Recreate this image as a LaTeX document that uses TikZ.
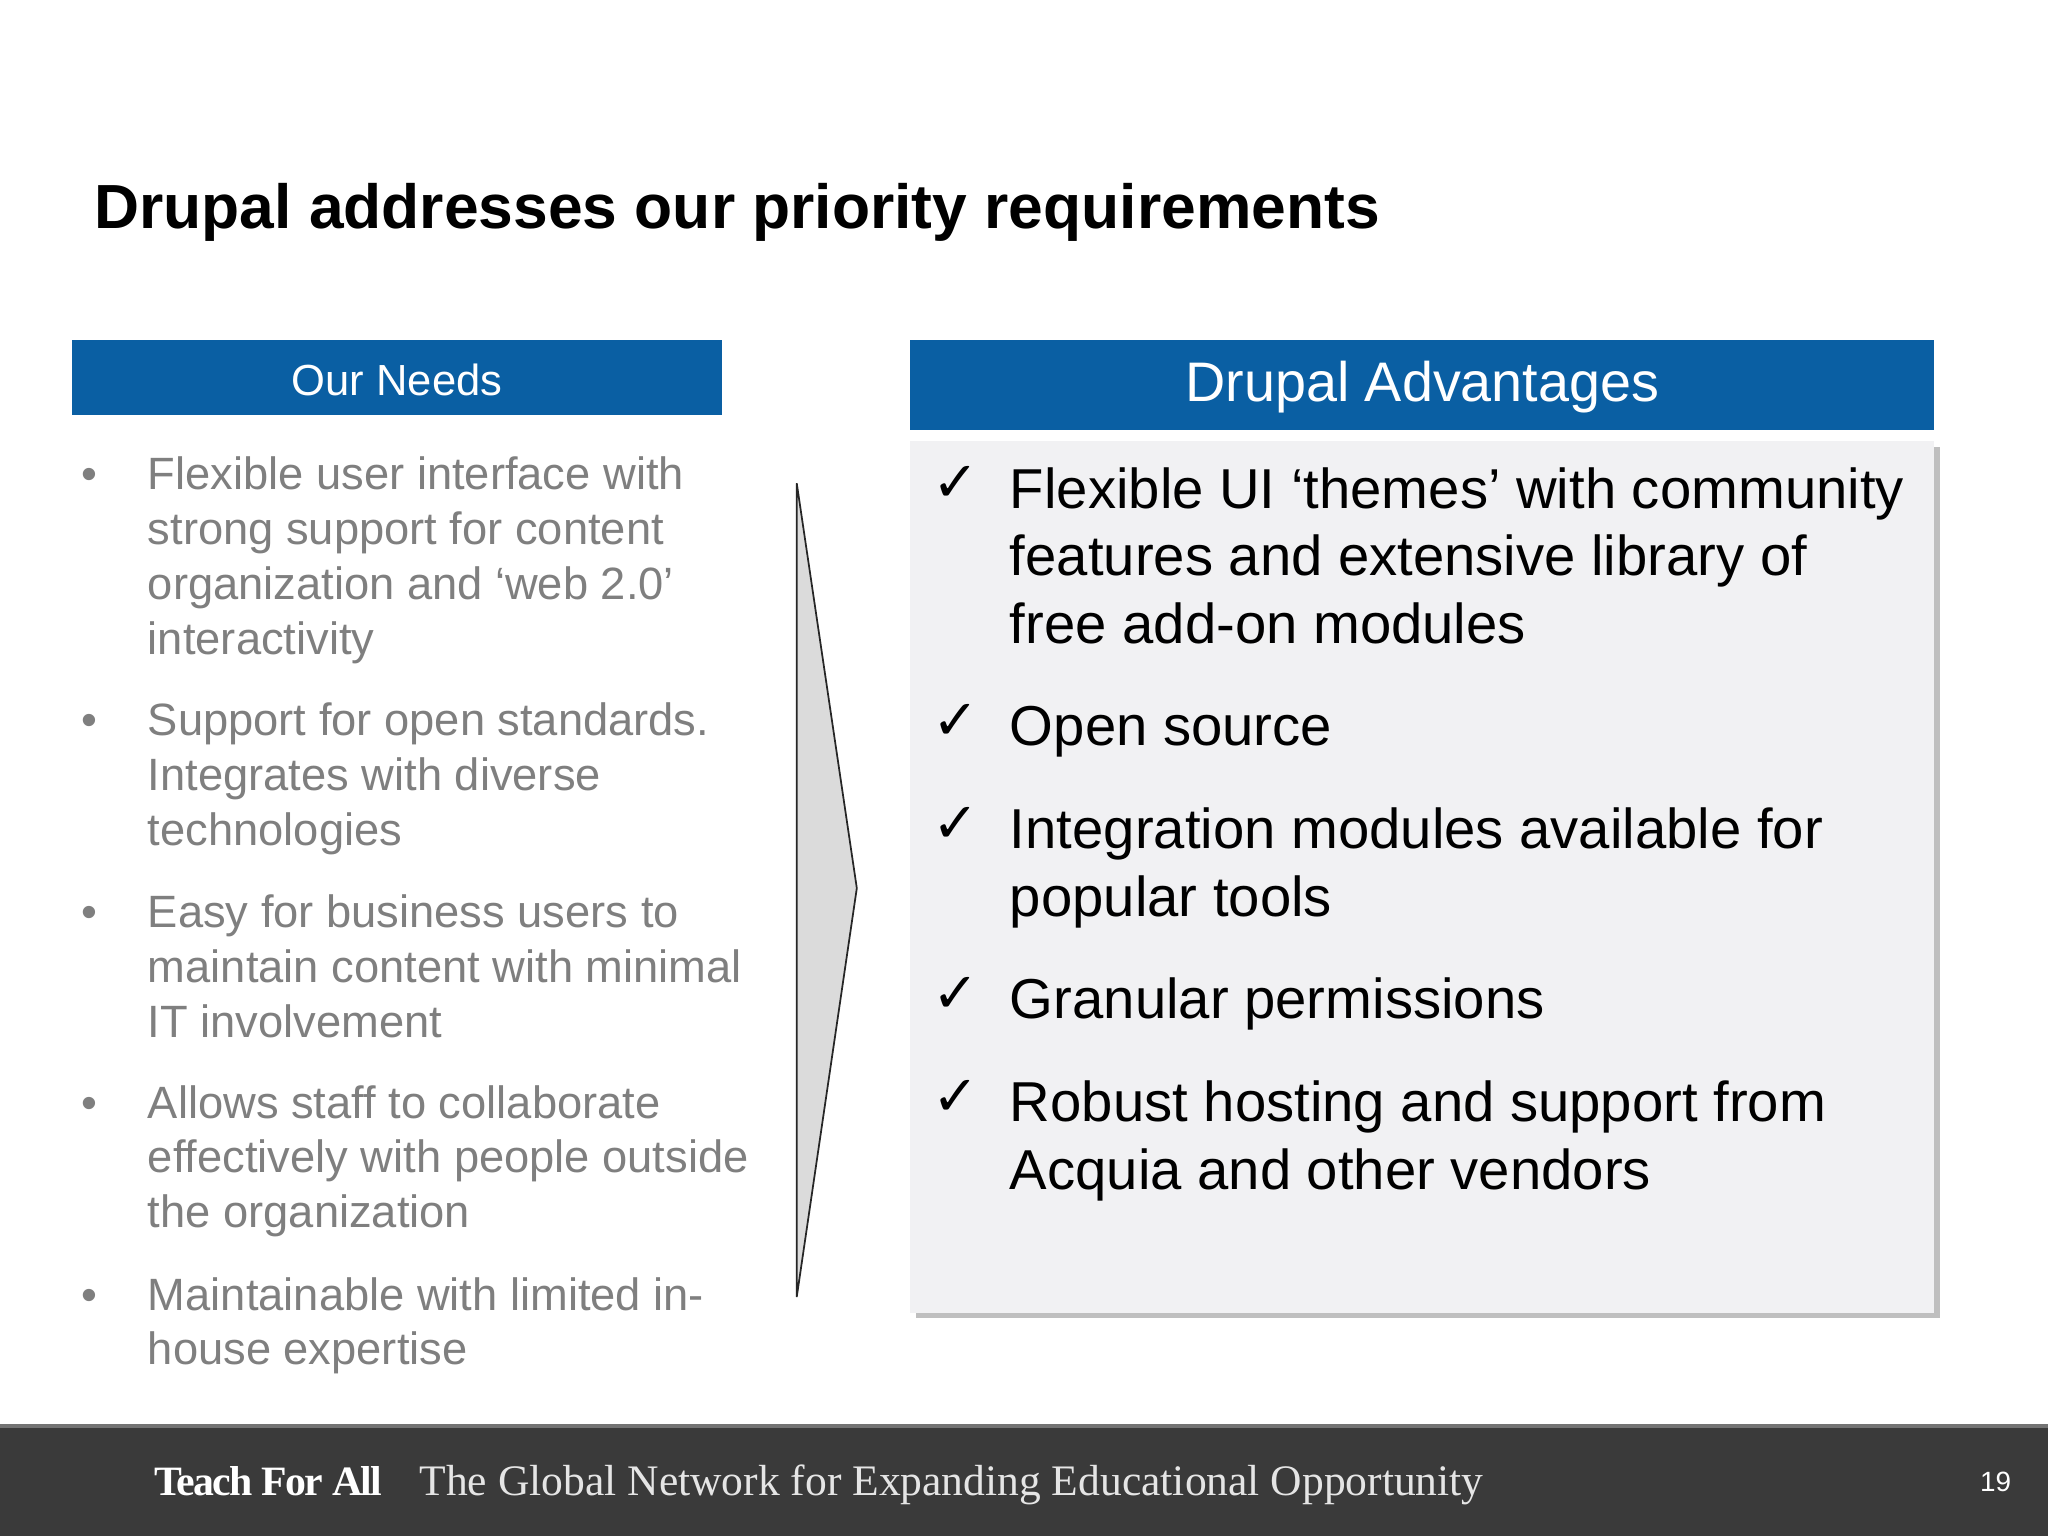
\documentclass[tikz,border=0pt]{standalone}
\usepackage{fontspec}
\setmainfont{Liberation Sans}
\newfontfamily\serifft{Liberation Serif}
\newfontfamily\symft{DejaVu Sans}
\definecolor{hdrblue}{HTML}{0A5FA3}
\definecolor{needgray}{HTML}{7F7F7F}
\definecolor{boxgray}{HTML}{F1F1F3}
\definecolor{footgray}{HTML}{3A3A3A}
\tikzset{
 hdr/.style={fill=hdrblue,draw=none},
 need/.style={anchor=base west,inner sep=0,text=needgray,font=\fontsize{26}{31}\selectfont},
 adv/.style={anchor=base west,inner sep=0,text=black,font=\fontsize{32.3}{39}\selectfont},
 chk/.style={anchor=base west,inner sep=0,font=\symft\fontsize{32}{36}\selectfont},
}
\begin{document}
\begin{tikzpicture}[x=0.75pt,y=-0.75pt]
\path[use as bounding box,fill=white] (0,0) rectangle (1568,1176);
\node[anchor=base west,inner sep=0,font=\bfseries\fontsize{35.8}{40}\selectfont] (title) at (72,175) {Drupal addresses our priority requirements};
% left header
\path[hdr] (55,260) rectangle (553,318);
\node[text=white,inner sep=0,font=\fontsize{25}{30}\selectfont] (needs) at (304,291) {Our Needs};
% right header
\path[hdr] (697,260) rectangle (1481,329);
\node[text=white,inner sep=0,font=\fontsize{32}{38}\selectfont] (adv) at (1089,296) {Drupal Advantages};
% right box with shadow
\fill[black!25] (701,342) rectangle (1485,1009);
\fill[boxgray] (697,338) rectangle (1481,1005);
% arrow
\draw[fill=black!14,draw=black!85,line width=1pt] (610,370) -- (656,680) -- (610,993) -- cycle;
% bullets
\foreach \y in {375,563,710,856,1003}{\node[need] at (62,\y) {•};}
\node[need] at (113,375) {Flexible user interface with};
\node[need] at (113,417) {strong support for content};
\node[need] at (113,459) {organization and ‘web 2.0’};
\node[need] at (113,501) {interactivity};
\node[need] at (113,563) {Support for open standards.};
\node[need] at (113,605) {Integrates with diverse};
\node[need] at (113,647) {technologies};
\node[need] at (113,710) {Easy for business users to};
\node[need] at (113,752) {maintain content with minimal};
\node[need] at (113,794) {IT involvement};
\node[need] at (113,856) {Allows staff to collaborate};
\node[need] at (113,898) {effectively with people outside};
\node[need] at (113,940) {the organization};
\node[need] at (113,1003) {Maintainable with limited in-};
\node[need] at (113,1045) {house expertise};
% checks
\foreach \y in {384,566,645,775,854}{\node[chk] at (714,\y) {✓};}
\node[adv] at (773,389) {Flexible UI ‘themes’ with community};
\node[adv] at (773,441) {features and extensive library of};
\node[adv] at (773,493) {free add-on modules};
\node[adv] at (773,571) {Open source};
\node[adv] at (773,650) {Integration modules available for};
\node[adv] at (773,702) {popular tools};
\node[adv] at (773,780) {Granular permissions};
\node[adv] at (773,859) {Robust hosting and support from};
\node[adv] at (773,911) {Acquia and other vendors};
% footer
\fill[footgray] (0,1090) rectangle (1568,1176);
\fill[black!55] (0,1090) rectangle (1568,1093);
\node[anchor=base west,inner sep=0,text=white,font=\serifft\bfseries\fontsize{24}{28}\selectfont] (tfa) at (118,1145) {\addfontfeature{LetterSpace=-4}Teach For All};
\node[anchor=base west,inner sep=0,text=black!10,font=\serifft\fontsize{25}{28}\selectfont] (tag) at (321,1145) {The Global Network for Expanding Educational Opportunity};
\node[anchor=base east,inner sep=0,text=white,font=\fontsize{16}{20}\selectfont] (pg) at (1540,1142) {19};
\end{tikzpicture}
\end{document}
